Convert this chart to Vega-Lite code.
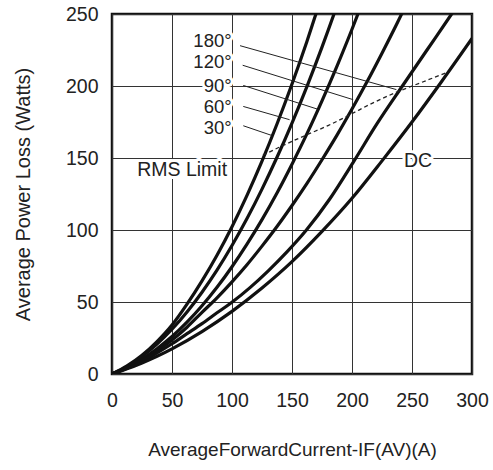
{
  "$schema": "https://vega.github.io/schema/vega-lite/v6.json",
  "width": 360,
  "height": 360,
  "autosize": {"type": "none"},
  "padding": {"left": 112, "top": 14, "right": 21, "bottom": 96},
  "background": "white",
  "config": {
    "view": {"stroke": "#111", "strokeWidth": 2.5},
    "axis": {
      "grid": true, "gridColor": "#333", "gridWidth": 1, "domain": false, "ticks": false, "labelFlush": false, "labelOverlap": false, "labelBound": false,
      "labelFont": "Liberation Sans", "labelFontSize": 19.5, "labelColor": "#222",
      "titleFont": "Liberation Sans", "titleFontSize": 20, "titleFontWeight": "normal", "titleColor": "#222"
    },
    "text": {"font": "Liberation Sans", "color": "#222"}
  },
  "datasets": {
    "curves": [
      {"curve": "30°", "x": 0, "y": 0}, {"curve": "30°", "x": 12.5, "y": 5.6}, {"curve": "30°", "x": 25, "y": 13}, {"curve": "30°", "x": 37.5, "y": 22.5}, {"curve": "30°", "x": 50, "y": 34}, {"curve": "30°", "x": 62.5, "y": 48.5}, {"curve": "30°", "x": 75, "y": 64.7}, {"curve": "30°", "x": 87.5, "y": 82.5}, {"curve": "30°", "x": 100, "y": 102.3}, {"curve": "30°", "x": 112.5, "y": 124.1}, {"curve": "30°", "x": 125, "y": 147.8}, {"curve": "30°", "x": 137.5, "y": 173.6}, {"curve": "30°", "x": 150, "y": 201.4}, {"curve": "30°", "x": 162.5, "y": 231.1}, {"curve": "30°", "x": 175, "y": 262.9}, {"curve": "30°", "x": 182, "y": 280},
      {"curve": "60°", "x": 0, "y": 0}, {"curve": "60°", "x": 12.5, "y": 5.2}, {"curve": "60°", "x": 25, "y": 12.2}, {"curve": "60°", "x": 37.5, "y": 20.8}, {"curve": "60°", "x": 50, "y": 31.1}, {"curve": "60°", "x": 62.5, "y": 43.1}, {"curve": "60°", "x": 75, "y": 56.8}, {"curve": "60°", "x": 87.5, "y": 72.1}, {"curve": "60°", "x": 100, "y": 89.2}, {"curve": "60°", "x": 112.5, "y": 107.9}, {"curve": "60°", "x": 125, "y": 128.4}, {"curve": "60°", "x": 137.5, "y": 150.5}, {"curve": "60°", "x": 150, "y": 174.3}, {"curve": "60°", "x": 162.5, "y": 199.8}, {"curve": "60°", "x": 175, "y": 227}, {"curve": "60°", "x": 187.5, "y": 255.9}, {"curve": "60°", "x": 195, "y": 274},
      {"curve": "90°", "x": 0, "y": 0}, {"curve": "90°", "x": 12.5, "y": 4.6}, {"curve": "90°", "x": 25, "y": 10.4}, {"curve": "90°", "x": 37.5, "y": 17.6}, {"curve": "90°", "x": 50, "y": 26}, {"curve": "90°", "x": 62.5, "y": 36}, {"curve": "90°", "x": 75, "y": 47.4}, {"curve": "90°", "x": 87.5, "y": 60.2}, {"curve": "90°", "x": 100, "y": 74.5}, {"curve": "90°", "x": 112.5, "y": 90.2}, {"curve": "90°", "x": 125, "y": 107.2}, {"curve": "90°", "x": 137.5, "y": 125.7}, {"curve": "90°", "x": 150, "y": 145.7}, {"curve": "90°", "x": 162.5, "y": 166.9}, {"curve": "90°", "x": 175, "y": 189.7}, {"curve": "90°", "x": 187.5, "y": 213.8}, {"curve": "90°", "x": 200, "y": 239.4}, {"curve": "90°", "x": 212.5, "y": 266.3},
      {"curve": "120°", "x": 0, "y": 0}, {"curve": "120°", "x": 12.5, "y": 4.3}, {"curve": "120°", "x": 25, "y": 9.6}, {"curve": "120°", "x": 37.5, "y": 16.2}, {"curve": "120°", "x": 50, "y": 23.6}, {"curve": "120°", "x": 62.5, "y": 32.5}, {"curve": "120°", "x": 75, "y": 42.8}, {"curve": "120°", "x": 87.5, "y": 52.9}, {"curve": "120°", "x": 100, "y": 64}, {"curve": "120°", "x": 112.5, "y": 75.9}, {"curve": "120°", "x": 125, "y": 88.8}, {"curve": "120°", "x": 137.5, "y": 102.4}, {"curve": "120°", "x": 150, "y": 117}, {"curve": "120°", "x": 162.5, "y": 132.4}, {"curve": "120°", "x": 175, "y": 148.8}, {"curve": "120°", "x": 187.5, "y": 165.9}, {"curve": "120°", "x": 200, "y": 184}, {"curve": "120°", "x": 212.5, "y": 202.9}, {"curve": "120°", "x": 225, "y": 222.8}, {"curve": "120°", "x": 237.5, "y": 243.4}, {"curve": "120°", "x": 250, "y": 265},
      {"curve": "180°", "x": 0, "y": 0}, {"curve": "180°", "x": 12.5, "y": 3.9}, {"curve": "180°", "x": 25, "y": 8.8}, {"curve": "180°", "x": 37.5, "y": 14.6}, {"curve": "180°", "x": 50, "y": 21}, {"curve": "180°", "x": 62.5, "y": 28}, {"curve": "180°", "x": 75, "y": 35}, {"curve": "180°", "x": 87.5, "y": 42.5}, {"curve": "180°", "x": 101, "y": 50.5}, {"curve": "180°", "x": 115, "y": 60}, {"curve": "180°", "x": 130, "y": 71.5}, {"curve": "180°", "x": 146, "y": 85}, {"curve": "180°", "x": 162, "y": 100}, {"curve": "180°", "x": 181, "y": 121}, {"curve": "180°", "x": 201, "y": 147}, {"curve": "180°", "x": 221, "y": 174}, {"curve": "180°", "x": 242, "y": 200}, {"curve": "180°", "x": 262.5, "y": 225}, {"curve": "180°", "x": 283, "y": 250}, {"curve": "180°", "x": 295, "y": 265},
      {"curve": "DC", "x": 0, "y": 0}, {"curve": "DC", "x": 12.5, "y": 3.6}, {"curve": "DC", "x": 25, "y": 7.7}, {"curve": "DC", "x": 37.5, "y": 12.3}, {"curve": "DC", "x": 50, "y": 17.5}, {"curve": "DC", "x": 75, "y": 29.5}, {"curve": "DC", "x": 100, "y": 43.5}, {"curve": "DC", "x": 125, "y": 59.7}, {"curve": "DC", "x": 150, "y": 78}, {"curve": "DC", "x": 175, "y": 99}, {"curve": "DC", "x": 200, "y": 122}, {"curve": "DC", "x": 225, "y": 148}, {"curve": "DC", "x": 250, "y": 175}, {"curve": "DC", "x": 275, "y": 203.5}, {"curve": "DC", "x": 300, "y": 233}
    ],
    "rms": [
      {"x": 125.8, "y": 152}, {"x": 142, "y": 158.5}, {"x": 162, "y": 166}, {"x": 180, "y": 172.5}, {"x": 197, "y": 179.5}, {"x": 218, "y": 188.5}, {"x": 238, "y": 196}, {"x": 258, "y": 202.5}, {"x": 278, "y": 209}
    ],
    "leaders": [
      {"label": "180°", "x": 106.7, "y": 228, "x2": 237, "y2": 197.5},
      {"label": "120°", "x": 108.9, "y": 214.4, "x2": 201, "y2": 190.5},
      {"label": "90°", "x": 109.4, "y": 200.4, "x2": 171, "y2": 184},
      {"label": "60°", "x": 109.4, "y": 185.8, "x2": 148, "y2": 176.6},
      {"label": "30°", "x": 109.4, "y": 172.4, "x2": 133, "y2": 165.7}
    ],
    "degLabels": [
      {"label": "180°", "x": 99.7, "y": 231},
      {"label": "120°", "x": 99.7, "y": 216.4},
      {"label": "90°", "x": 99.7, "y": 200},
      {"label": "60°", "x": 99.7, "y": 185.4},
      {"label": "30°", "x": 99.7, "y": 170.8}
    ],
    "notes": [
      {"label": "RMS Limit", "x": 58.4, "y": 141.9},
      {"label": "DC", "x": 255, "y": 147.6}
    ]
  },
  "encoding": {
    "x": {"field": "x", "type": "quantitative", "scale": {"domain": [0, 300], "nice": false},
          "axis": {"values": [0, 50, 100, 150, 200, 250, 300], "labelPadding": 17, "titlePadding": 31, "title": "AverageForwardCurrent-IF(AV)(A)", "titleFontSize": 19}},
    "y": {"field": "y", "type": "quantitative", "scale": {"domain": [0, 250], "nice": false},
          "axis": {"values": [0, 50, 100, 150, 200, 250], "labelPadding": 14, "titlePadding": 32, "title": "Average Power Loss (Watts)"}}
  },
  "layer": [
    {
      "data": {"name": "curves"},
      "mark": {"type": "line", "interpolate": "monotone", "strokeWidth": 3.2, "color": "#111", "clip": true},
      "encoding": {"detail": {"field": "curve"}}
    },
    {
      "data": {"name": "rms"},
      "mark": {"type": "line", "interpolate": "monotone", "strokeWidth": 1.3, "strokeDash": [4, 3], "color": "#222"},
      "encoding": {}
    },
    {
      "data": {"name": "leaders"},
      "mark": {"type": "rule", "strokeWidth": 1, "color": "#222"},
      "encoding": {"x2": {"field": "x2"}, "y2": {"field": "y2"}}
    },
    {
      "data": {"name": "degLabels"},
      "mark": {"type": "text", "align": "right", "baseline": "middle", "fontSize": 18.5, "stroke": "white", "strokeWidth": 6, "strokeJoin": "round", "fill": "white"},
      "encoding": {"text": {"field": "label"}}
    },
    {
      "data": {"name": "degLabels"},
      "mark": {"type": "text", "align": "right", "baseline": "middle", "fontSize": 18.5, "color": "#222"},
      "encoding": {"text": {"field": "label"}}
    },
    {
      "data": {"name": "notes"},
      "mark": {"type": "text", "align": "center", "baseline": "middle", "fontSize": 19.5, "stroke": "white", "strokeWidth": 6, "strokeJoin": "round", "fill": "white"},
      "encoding": {"text": {"field": "label"}}
    },
    {
      "data": {"name": "notes"},
      "mark": {"type": "text", "align": "center", "baseline": "middle", "fontSize": 19.5, "color": "#222"},
      "encoding": {"text": {"field": "label"}}
    }
  ]
}
